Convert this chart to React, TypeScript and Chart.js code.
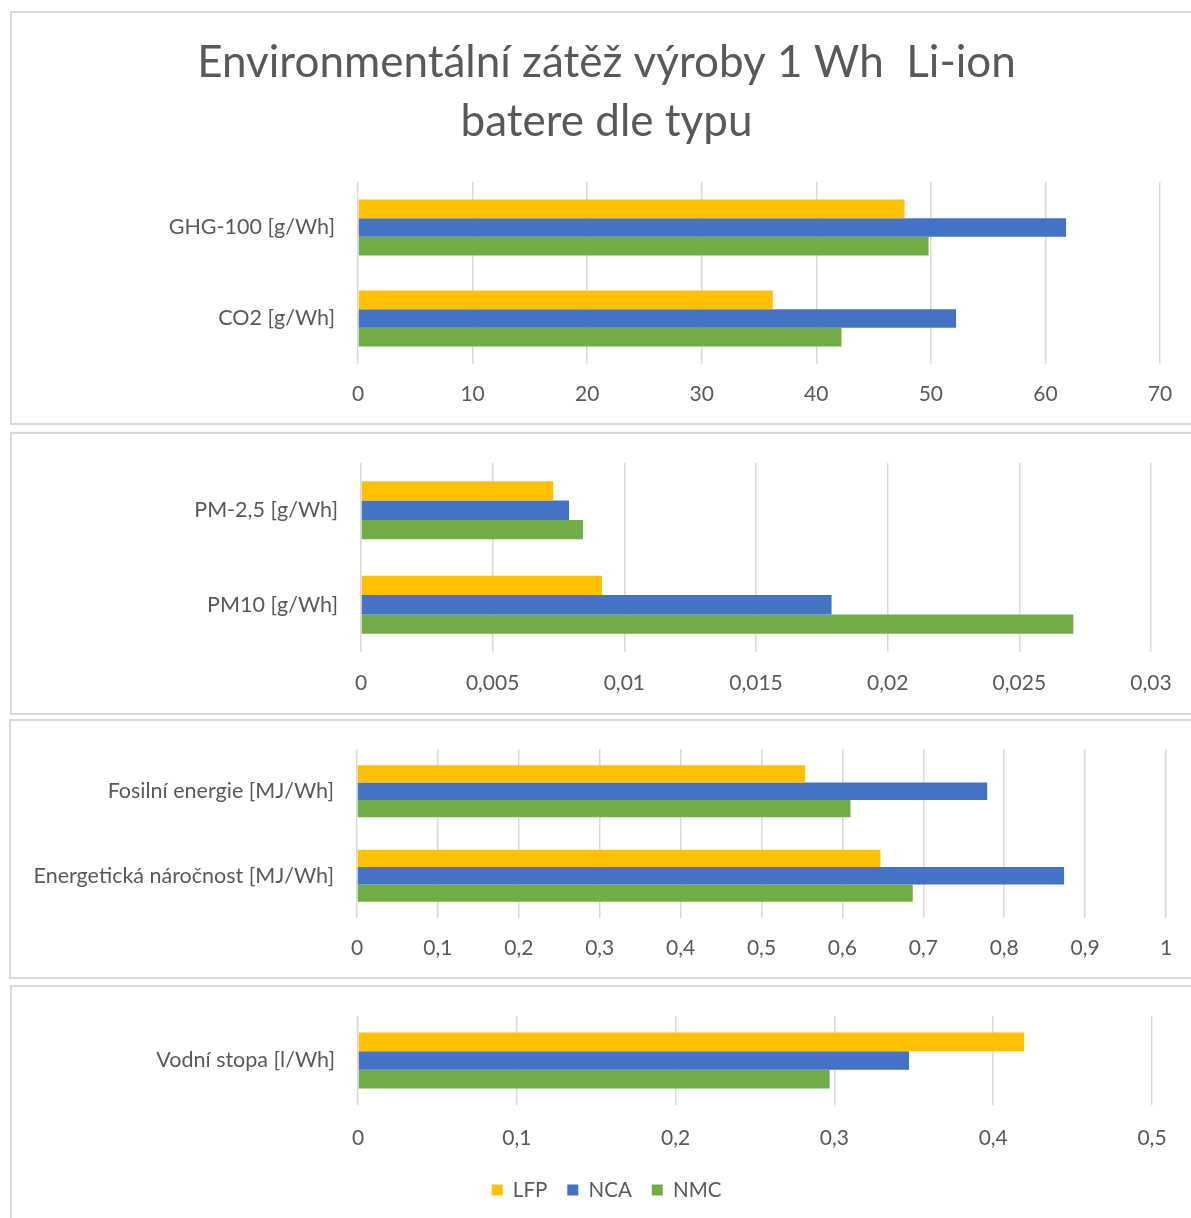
import React, { useEffect, useRef } from 'react';
import { Chart, registerables } from 'chart.js';

Chart.register(...registerables);

// ---------- data ----------
const seriesNames = ['LFP', 'NCA', 'NMC'];
const seriesColors = ['#FFC000', '#4472C4', '#70AD47'];

const titleLines = ['Environmentální zátěž výroby 1 Wh  Li-ion', 'batere dle typu'];

const ghgCategories = ['GHG-100 [g/Wh]', 'CO2 [g/Wh]'];
const ghgLFP = [47.7, 36.2];
const ghgNCA = [61.8, 52.2];
const ghgNMC = [49.8, 42.2];

const pmCategories = ['PM-2,5 [g/Wh]', 'PM10 [g/Wh]'];
const pmLFP = [0.0073, 0.00915];
const pmNCA = [0.0079, 0.01787];
const pmNMC = [0.00843, 0.02705];

const energyCategories = ['Fosilní energie [MJ/Wh]', 'Energetická náročnost [MJ/Wh]'];
const energyLFP = [0.554, 0.647];
const energyNCA = [0.779, 0.874];
const energyNMC = [0.61, 0.687];

const waterCategories = ['Vodní stopa [l/Wh]'];
const waterLFP = [0.4195];
const waterNCA = [0.347];
const waterNMC = [0.297];

// ---------- styling ----------
const FONT = 'Lato, "Open Sans", sans-serif';
const TEXT = '#595959';
const GRID = '#d9d9d9';
const TICK_SIZE = 21;
const CAT_SIZE = 21.5;
const LEGEND_SIZE = 20.5;
const TITLE_SIZE = 44;

const fmt = (v: number) => String(Number(Number(v).toFixed(4))).replace('.', ',');

type PanelProps = {
  left: number;
  top: number;
  width: number;
  height: number;
  labels: string[];
  values: number[][];
  max: number;
  step: number;
  yAxisWidth: number;
  padLeft: number;
  padTop: number;
  padRight: number;
  padBottom: number;
  xAxisHeight: number;
  tickPad: number;
  catPct: number;
  title?: boolean;
  legend?: boolean;
};

function Panel(p: PanelProps) {
  const ref = useRef<HTMLCanvasElement | null>(null);
  const cw = p.width - 4;
  const ch = p.height - 4;

  useEffect(() => {
    if (!ref.current) return;
    const chart = new Chart(ref.current, {
      type: 'bar',
      data: {
        labels: p.labels,
        datasets: p.values.map((vals, i) => ({
          label: seriesNames[i],
          data: vals,
          backgroundColor: seriesColors[i],
          borderWidth: 0,
          barPercentage: 1,
          categoryPercentage: p.catPct,
        })),
      },
      options: {
        indexAxis: 'y',
        responsive: false,
        animation: false,
        layout: {
          padding: {
            left: p.padLeft,
            right: p.padRight,
            top: p.title ? 0 : p.padTop,
            bottom: p.padBottom,
          },
        },
        plugins: {
          tooltip: { enabled: false },
          title: {
            display: !!p.title,
            text: titleLines,
            color: TEXT,
            font: { family: FONT, size: TITLE_SIZE, weight: 'normal', lineHeight: 59 / TITLE_SIZE },
            padding: { top: 20.5, bottom: 30.5 },
          },
          legend: {
            display: !!p.legend,
            position: 'bottom',
            labels: {
              color: TEXT,
              font: { family: FONT, size: LEGEND_SIZE },
              boxWidth: 11,
              boxHeight: 11,
              padding: 20,
            },
          },
        },
        scales: {
          x: {
            min: 0,
            max: p.max,
            ticks: {
              stepSize: p.step,
              color: TEXT,
              font: { family: FONT, size: TICK_SIZE },
              padding: p.tickPad,
              callback: (v: any) => fmt(v),
            },
            grid: { color: GRID, lineWidth: 1.5, drawTicks: false },
            border: { display: false },
            afterFit: (s: any) => {
              s.height = p.xAxisHeight;
            },
          },
          y: {
            ticks: {
              color: TEXT,
              font: { family: FONT, size: CAT_SIZE },
              padding: 23,
            },
            grid: { display: false, drawTicks: false },
            border: { display: false },
            afterFit: (s: any) => {
              s.width = p.yAxisWidth;
              s.paddingTop = 0;
              s.paddingBottom = 0;
            },
          },
        },
      } as any,
    });
    return () => chart.destroy();
  }, []);

  return (
    <div
      style={{
        position: 'absolute',
        left: p.left,
        top: p.top,
        width: p.width,
        height: p.height,
        border: '2px solid #d9d9d9',
        boxSizing: 'border-box',
        background: '#fff',
      }}
    >
      <canvas ref={ref} width={cw} height={ch} style={{ display: 'block', width: cw, height: ch }} />
    </div>
  );
}

export default function App() {
  return (
    <div
      style={{
        position: 'absolute',
        left: 0,
        top: 0,
        width: 1191,
        height: 1218,
        overflow: 'hidden',
        background: '#fff',
      }}
    >
      <Panel
        left={10}
        top={11}
        width={1193}
        height={414}
        labels={ghgCategories}
        values={[ghgLFP, ghgNCA, ghgNMC]}
        max={70}
        step={10}
        yAxisWidth={305}
        padLeft={41}
        padTop={0}
        padRight={41}
        padBottom={0}
        xAxisHeight={59}
        tickPad={17.4}
        catPct={0.615}
        title
      />
      <Panel
        left={10}
        top={432}
        width={1193}
        height={283}
        labels={pmCategories}
        values={[pmLFP, pmNCA, pmNMC]}
        max={0.03}
        step={0.005}
        yAxisWidth={349}
        padLeft={0}
        padTop={29}
        padRight={50}
        padBottom={0}
        xAxisHeight={61}
        tickPad={18.4}
        catPct={0.615}
      />
      <Panel
        left={9}
        top={719}
        width={1194}
        height={260}
        labels={energyCategories}
        values={[energyLFP, energyNCA, energyNMC]}
        max={1}
        step={0.1}
        yAxisWidth={346}
        padLeft={0}
        padTop={28}
        padRight={35}
        padBottom={0}
        xAxisHeight={59}
        tickPad={17.4}
        catPct={0.615}
      />
      <Panel
        left={10}
        top={985}
        width={1193}
        height={240}
        labels={waterCategories}
        values={[waterLFP, waterNCA, waterNMC]}
        max={0.5}
        step={0.1}
        yAxisWidth={297}
        padLeft={49}
        padTop={29}
        padRight={49}
        padBottom={12.75}
        xAxisHeight={54.75}
        tickPad={20.4}
        catPct={0.63}
        legend
      />
    </div>
  );
}
